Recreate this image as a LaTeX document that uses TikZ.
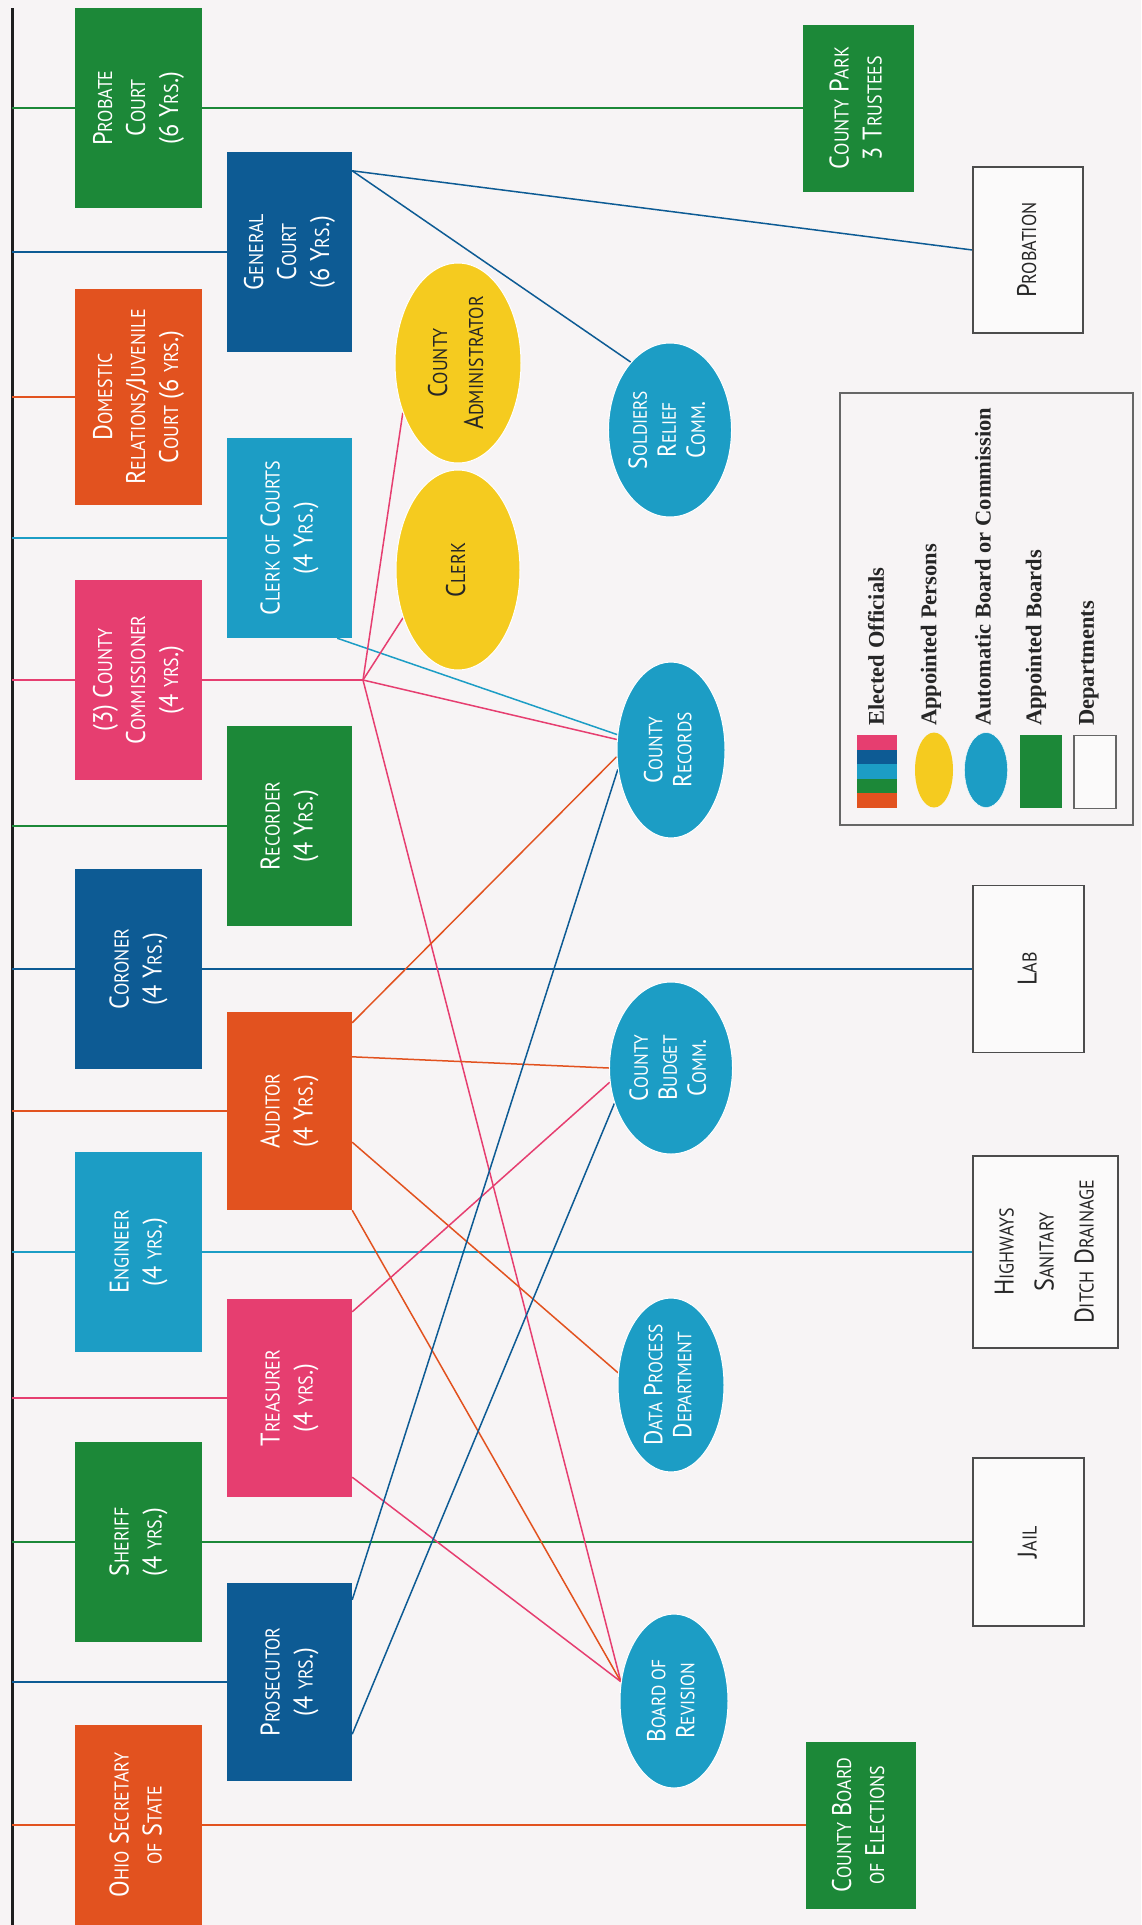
\documentclass[tikz,border=0pt]{standalone}
\usepackage{fontspec}
\setmainfont{PT Sans}
\newfontfamily\bxf{PT Sans}[FakeStretch=0.9]
\newfontfamily\legfont{Liberation Serif}
\usepackage{graphicx}
\usetikzlibrary{shapes.geometric}
\pgfdeclarelayer{bg}\pgfdeclarelayer{lines}
\pgfsetlayers{bg,lines,main}
\definecolor{cred}{HTML}{E2521F}
\definecolor{cblue}{HTML}{0D5B94}
\definecolor{cgreen}{HTML}{1C8838}
\definecolor{cpink}{HTML}{E63E70}
\definecolor{cteal}{HTML}{1C9DC5}
\definecolor{cyel}{HTML}{F5CB1F}
\definecolor{cbg}{HTML}{F7F4F5}
\definecolor{cspine}{HTML}{1E1E1E}
\makeatletter
\newcommand\smc[1]{{\fontsize{\fpeval{0.74*\f@size}}{\f@baselineskip}\selectfont #1}}
\makeatother
\newcommand\rt[1]{\rotatebox{90}{\begin{tabular}{@{}c@{}}#1\end{tabular}}}
\begin{document}
\begin{tikzpicture}[x=1pt,y=-1pt,
 offbox/.style={rectangle,inner sep=0pt,text=white,font=\bxf\fontsize{27}{33}\selectfont},
 depbox/.style={rectangle,inner sep=0pt,draw=black!70,line width=1.2pt,fill=white!50!cbg,text=black!85,font=\bxf\fontsize{27}{40}\selectfont},
 ellnode/.style={ellipse,inner sep=0pt,draw=white,line width=1pt,font=\bxf\fontsize{26}{29}\selectfont},
 yelnode/.style={ellnode,fill=cyel,text=black!85,font=\bxf\fontsize{27}{36}\selectfont},
 link/.style={line width=1.5pt},
 legtext/.style={rotate=90,anchor=west,inner sep=0pt,text=black!85,font=\legfont\bfseries\fontsize{22.5}{26}\selectfont}
]
\useasboundingbox (0,0) rectangle (1141,1925);
\begin{pgfonlayer}{bg}
\fill[cbg] (0,0) rectangle (1141,1925);
\end{pgfonlayer}

% spine
\coordinate (sT) at (12,8);
\coordinate (sB) at (12,1925);

% column 1 (elected)
\node[offbox,fill=cgreen,minimum width=127pt,minimum height=200pt] (probate) at (138.5,108) {\rt{P\smc{ROBATE}\\C\smc{OURT}\\(6 Y\smc{RS}.)}};
\node[offbox,fill=cred,minimum width=127pt,minimum height=216pt] (domestic) at (138.5,397) {\rt{D\smc{OMESTIC}\\R\smc{ELATIONS}/J\smc{UVENILE}\\C\smc{OURT} (6 \smc{YRS}.)}};
\node[offbox,fill=cpink,minimum width=127pt,minimum height=200pt] (comm) at (138.5,680) {\rt{(3) C\smc{OUNTY}\\C\smc{OMMISSIONER}\\(4 \smc{YRS}.)}};
\node[offbox,fill=cblue,minimum width=127pt,minimum height=200pt] (coroner) at (138.5,969) {\rt{C\smc{ORONER}\\(4 Y\smc{RS}.)}};
\node[offbox,fill=cteal,minimum width=127pt,minimum height=200pt] (engineer) at (138.5,1252) {\rt{E\smc{NGINEER}\\(4 \smc{YRS}.)}};
\node[offbox,fill=cgreen,minimum width=127pt,minimum height=200pt] (sheriff) at (138.5,1542) {\rt{S\smc{HERIFF}\\(4 \smc{YRS}.)}};
\node[offbox,fill=cred,minimum width=127pt,minimum height=200pt] (ohio) at (138.5,1825) {\rt{O\smc{HIO} S\smc{ECRETARY}\\\smc{OF} S\smc{TATE}}};

% column 2 (elected)
\node[offbox,fill=cblue,minimum width=125pt,minimum height=200pt] (gen) at (289.5,252) {\rt{G\smc{ENERAL}\\C\smc{OURT}\\(6 Y\smc{RS}.)}};
\node[offbox,fill=cteal,minimum width=125pt,minimum height=200pt] (clerkc) at (289.5,538) {\rt{C\smc{LERK OF} C\smc{OURTS}\\(4 Y\smc{RS}.)}};
\node[offbox,fill=cgreen,minimum width=125pt,minimum height=200pt] (recorder) at (289.5,826) {\rt{R\smc{ECORDER}\\(4 Y\smc{RS}.)}};
\node[offbox,fill=cred,minimum width=125pt,minimum height=198pt] (aud) at (289.5,1111) {\rt{A\smc{UDITOR}\\(4 Y\smc{RS}.)}};
\node[offbox,fill=cpink,minimum width=125pt,minimum height=198pt] (tre) at (289.5,1398) {\rt{T\smc{REASURER}\\(4 \smc{YRS}.)}};
\node[offbox,fill=cblue,minimum width=125pt,minimum height=198pt] (pros) at (289.5,1682) {\rt{P\smc{ROSECUTOR}\\(4 \smc{YRS}.)}};

% appointed persons
\node[yelnode,minimum width=126pt,minimum height=200pt] (ca) at (458,363) {\rt{C\smc{OUNTY}\\A\smc{DMINISTRATOR}}};
\node[yelnode,minimum width=124pt,minimum height=200pt] (clerk) at (458,570) {\rt{C\smc{LERK}}};

% automatic boards
\node[ellnode,fill=cteal,text=white,minimum width=106pt,minimum height=174pt] (sol) at (670,430) {\rt{S\smc{OLDIERS}\\R\smc{ELIEF}\\C\smc{OMM}.}};
\node[ellnode,fill=cteal,text=white,minimum width=108pt,minimum height=176pt] (recs) at (671,750) {\rt{C\smc{OUNTY}\\R\smc{ECORDS}}};
\node[ellnode,fill=cteal,text=white,minimum width=104pt,minimum height=172pt] (bud) at (671,1068) {\rt{C\smc{OUNTY}\\B\smc{UDGET}\\C\smc{OMM}.}};
\node[ellnode,fill=cteal,text=white,minimum width=106pt,minimum height=174pt] (dp) at (671,1385) {\rt{D\smc{ATA} P\smc{ROCESS}\\D\smc{EPARTMENT}}};
\node[ellnode,fill=cteal,text=white,minimum width=108pt,minimum height=174pt] (bor) at (674,1701) {\rt{B\smc{OARD OF}\\R\smc{EVISION}}};

% appointed boards
\node[offbox,fill=cgreen,minimum width=111pt,minimum height=167pt] (park) at (858.5,108) {\rt{C\smc{OUNTY} P\smc{ARK}\\3 T\smc{RUSTEES}}};
\node[offbox,fill=cgreen,minimum width=110pt,minimum height=167pt] (boe) at (861,1825) {\rt{C\smc{OUNTY} B\smc{OARD}\\\smc{OF} E\smc{LECTIONS}}};

% departments
\node[depbox,minimum width=110pt,minimum height=166pt] (prob) at (1028,250) {\rt{P\smc{ROBATION}}};
\node[depbox,minimum width=111pt,minimum height=167pt] (lab) at (1028.5,969) {\rt{L\smc{AB}}};
\node[depbox,minimum width=145pt,minimum height=192pt] (hwy) at (1045.5,1252) {\rt{H\smc{IGHWAYS}\\S\smc{ANITARY}\\D\smc{ITCH} D\smc{RAINAGE}}};
\node[depbox,minimum width=111pt,minimum height=168pt] (jail) at (1028.5,1542) {\rt{J\smc{AIL}}};

% junction of commissioner lines
\coordinate (J) at (363,680);

% legend
\begin{pgfonlayer}{lines}
\node[rectangle,draw=black!60,line width=1.2pt,minimum width=293pt,minimum height=432pt] (legend) at (986.5,609) {};
\end{pgfonlayer}
\foreach \c [count=\i from 0] in {cpink,cblue,cteal,cgreen,cred}
  \fill[\c] (857,{735+14.6*\i}) rectangle (897,{735+14.6*(\i+1)});
\node[rectangle,inner sep=0pt,minimum width=40pt,minimum height=73pt] (swE) at (877,771.5) {};
\node[ellipse,inner sep=0pt,fill=cyel,minimum width=38pt,minimum height=75pt] (swP) at (934,770) {};
\node[ellipse,inner sep=0pt,fill=cteal,draw=white,minimum width=43pt,minimum height=75pt] (swA) at (986,770) {};
\node[rectangle,inner sep=0pt,fill=cgreen,minimum width=42pt,minimum height=73pt] (swB) at (1041,771) {};
\node[rectangle,inner sep=0pt,draw=black!60,line width=1.2pt,fill=white!50!cbg,minimum width=42pt,minimum height=73pt] (swD) at (1095,772) {};
\node[legtext] (lE) at (876,726) {Elected Officials};
\node[legtext] (lP) at (931,726) {Appointed Persons};
\node[legtext] (lA) at (983,726) {Automatic Board or Commission};
\node[legtext] (lB) at (1036,726) {Appointed Boards};
\node[legtext] (lD) at (1089,726) {Departments};

% connectors
\begin{pgfonlayer}{lines}
\draw[cspine,line width=3pt] (sT) -- (sB);
\draw[link,cgreen] (probate.west -| sT) -- (park.west);
\draw[link,cred] (domestic.west -| sT) -- (domestic.west);
\draw[link,cblue] (gen.west -| sT) -- (gen.west);
\draw[link,cteal] (clerkc.west -| sT) -- (clerkc.west);
\draw[link,cpink] (comm.west -| sT) -- (J);
\draw[link,cgreen] (recorder.west -| sT) -- (recorder.west);
\draw[link,cblue] (coroner.west -| sT) -- (lab.west);
\draw[link,cred] (aud.west -| sT) -- (aud.west);
\draw[link,cteal] (engineer.west -| sT) -- (hwy.west);
\draw[link,cpink] (tre.west -| sT) -- (tre.west);
\draw[link,cgreen] (sheriff.west -| sT) -- (jail.west);
\draw[link,cblue] (pros.west -| sT) -- (pros.west);
\draw[link,cred] (ohio.west -| sT) -- (boe.west);

\draw[link,cblue] ([yshift=-19pt]gen.north east) -- (prob.west);
\draw[link,cblue] ([yshift=-19pt]gen.north east) -- (sol.120);
\draw[link,cteal] ([xshift=-15pt]clerkc.south east) -- (recs.164.5);
\draw[link,cpink] (J) -- (ca.222);
\draw[link,cpink] (J) -- (clerk.221);
\draw[link,cpink] (J) -- (recs.169.5);
\draw[link,cpink] (J) -- (bor.160);
\draw[link,cred] ([yshift=-11pt]aud.north east) -- (recs.187.4);
\draw[link,cred] ([yshift=-45pt]aud.north east) -- (bud.180);
\draw[link,cred] ([yshift=68pt]aud.south east) -- (dp.167);
\draw[link,cred] (aud.south east) -- (bor.160);
\draw[link,cpink] ([yshift=-13pt]tre.north east) -- (bud.193);
\draw[link,cpink] ([yshift=20pt]tre.south east) -- (bor.160);
\draw[link,cblue] ([yshift=-17pt]pros.north east) -- (recs.200);
\draw[link,cblue] ([yshift=47pt]pros.south east) -- (bud.212);
\end{pgfonlayer}
\end{tikzpicture}
\end{document}
